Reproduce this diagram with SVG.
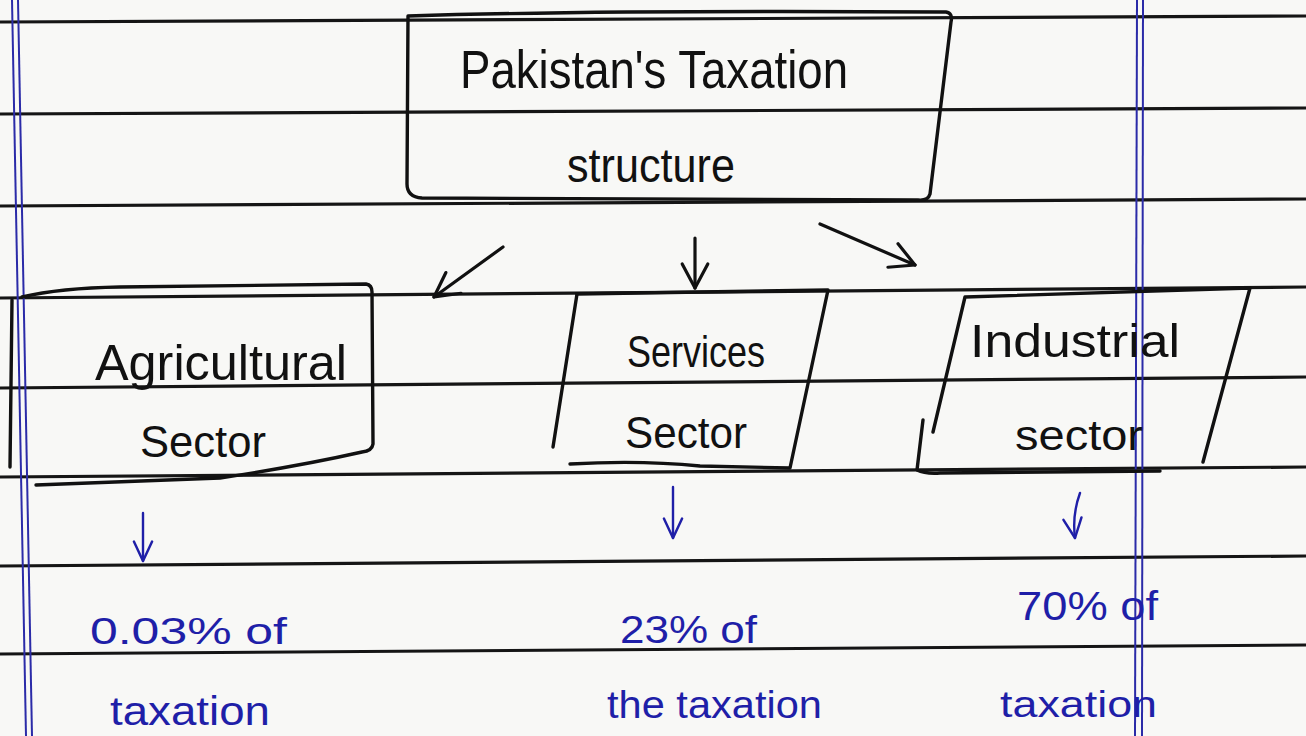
<svg xmlns="http://www.w3.org/2000/svg" width="1306" height="736" viewBox="0 0 1306 736">
<style>
.rule{stroke:#151515;stroke-width:3.2;fill:none}
.margin{stroke:#2b2ba8;stroke-width:2;fill:none}
.box{stroke:#111;stroke-width:3.4;fill:none;stroke-linecap:round;stroke-linejoin:round}
.ink{font-family:"Liberation Sans",Arial,sans-serif;fill:#111}
.blue{font-family:"Liberation Sans",Arial,sans-serif;fill:#1f1fa8}
.con{stroke:#111;stroke-width:3.2;fill:none;stroke-linecap:round}
.conb{stroke:#1f1fa8;stroke-width:2.4;fill:none;stroke-linecap:round}
</style>
<defs>
<marker id="ah" viewBox="0 0 20 20" refX="18" refY="10" markerWidth="32" markerHeight="32" markerUnits="userSpaceOnUse" orient="auto">
<path d="M3,2 L18,10 L3,18" fill="none" stroke="#111" stroke-width="2" stroke-linecap="round" stroke-linejoin="round"/>
</marker>
<marker id="ahb" viewBox="0 0 20 20" refX="18" refY="10" markerWidth="26" markerHeight="26" markerUnits="userSpaceOnUse" orient="auto">
<path d="M3,3 L18,10 L3,17" fill="none" stroke="#1f1fa8" stroke-width="1.9" stroke-linecap="round" stroke-linejoin="round"/>
</marker>
</defs>
<rect width="1306" height="736" fill="#f8f8f6"/>
<g id="paper">
<path class="rule" d="M0,22 L1306,16"/>
<path class="rule" d="M0,114 L1306,108"/>
<path class="rule" d="M0,206 L1306,199"/>
<path class="rule" d="M0,298 L1306,287"/>
<path class="rule" d="M0,388 L1306,377"/>
<path class="rule" d="M0,477 L1306,467"/>
<path class="rule" d="M0,566 L1306,556"/>
<path class="rule" d="M0,654 L1306,645"/>
<path class="margin" d="M12,0 L26,736"/>
<path class="margin" d="M18,0 L32,736"/>
<path class="margin" d="M1137,0 L1135,736"/>
<path class="margin" d="M1143,0 L1142,736"/>
</g>
<g id="connectors">
<path class="con" d="M503,247 L434,297" marker-end="url(#ah)"/>
<path class="con" d="M695,238 L695,288" marker-end="url(#ah)"/>
<path class="con" d="M820,224 L915,265" marker-end="url(#ah)"/>
<path class="conb" d="M143,513 L143,561" marker-end="url(#ahb)"/>
<path class="conb" d="M673,487 L673,538" marker-end="url(#ahb)"/>
<path class="conb" d="M1080,493 Q1072,515 1075,538" marker-end="url(#ahb)"/>
</g>
<g id="node-top">
<path class="box" d="M408,16 Q600,10 946,12 Q953,13 951,22 L930,194 Q928,201 918,200 L422,198 Q407,197 407,184 Z"/>
<text class="ink" x="460" y="88" font-size="54" textLength="388" lengthAdjust="spacingAndGlyphs">Pakistan's Taxation</text>
<text class="ink" x="567" y="182" font-size="48" textLength="168" lengthAdjust="spacingAndGlyphs">structure</text>
</g>
<g id="node-agri">
<path class="box" d="M22,297 Q60,288 120,287 L366,284 Q372,285 372,292 L373,444 Q372,451 362,452 Q300,466 220,478 L36,485"/>
<path class="box" d="M12,300 L10,467"/>
<text class="ink" x="95" y="380" font-size="50" textLength="252" lengthAdjust="spacingAndGlyphs">Agricultural</text>
<text class="ink" x="140" y="457" font-size="44" textLength="126" lengthAdjust="spacingAndGlyphs">Sector</text>
</g>
<g id="node-services">
<path class="box" d="M577,294 L828,290 L790,468 L700,466 Q640,460 570,464"/>
<path class="box" d="M577,294 L553,447"/>
<text class="ink" x="627" y="367" font-size="44" textLength="138" lengthAdjust="spacingAndGlyphs">Services</text>
<text class="ink" x="625" y="448" font-size="44" textLength="122" lengthAdjust="spacingAndGlyphs">Sector</text>
</g>
<g id="node-industrial">
<path class="box" d="M933,432 L965,297 L1250,288 L1203,462"/>
<path class="box" d="M923,420 L917,470 Q925,474 940,473 L1160,471"/>
<text class="ink" x="970" y="357" font-size="46" textLength="210" lengthAdjust="spacingAndGlyphs">Industrial</text>
<text class="ink" x="1015" y="450" font-size="42" textLength="128" lengthAdjust="spacingAndGlyphs">sector</text>
</g>
<g id="share-agri">
<text class="blue" x="90" y="644" font-size="36" textLength="197" lengthAdjust="spacingAndGlyphs">0.03% of</text>
<text class="blue" x="110" y="725" font-size="40" textLength="160" lengthAdjust="spacingAndGlyphs">taxation</text>
</g>
<g id="share-services">
<text class="blue" x="620" y="643" font-size="38" textLength="137" lengthAdjust="spacingAndGlyphs">23% of</text>
<text class="blue" x="607" y="718" font-size="38" textLength="215" lengthAdjust="spacingAndGlyphs">the taxation</text>
</g>
<g id="share-industrial">
<text class="blue" x="1017" y="620" font-size="40" textLength="141" lengthAdjust="spacingAndGlyphs">70% of</text>
<text class="blue" x="1000" y="717" font-size="36" textLength="157" lengthAdjust="spacingAndGlyphs">taxation</text>
</g>
</svg>
